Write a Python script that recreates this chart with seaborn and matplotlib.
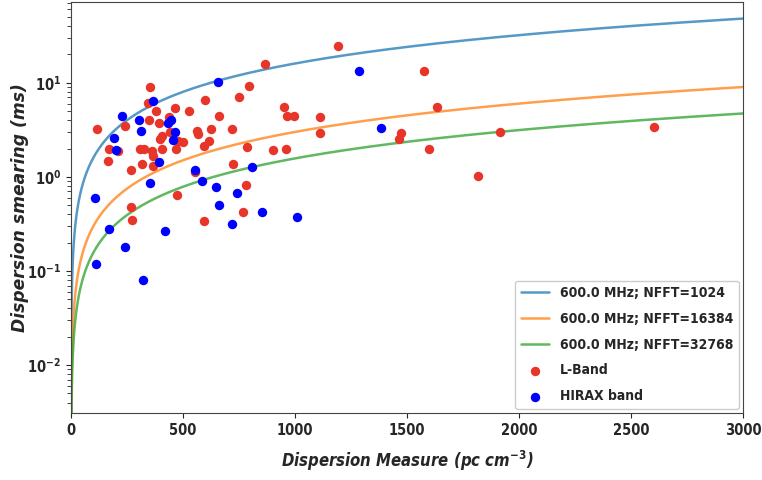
import numpy as np
import pandas as pd
import matplotlib
matplotlib.use("Agg")
import matplotlib.pyplot as plt
import seaborn as sns

# ---- data ----
curve_labels = ["600.0 MHz; NFFT=1024", "600.0 MHz; NFFT=16384", "600.0 MHz; NFFT=32768"]
curve_colors = ["#1f77b4", "#ff7f0e", "#2ca02c"]
# smearing (ms) per unit DM (value at DM=3000 / 3000)
curve_slopes = [0.0160, 0.00300, 0.00157]

lband_dm = [117, 354, 342, 379, 347, 392, 438, 241, 170, 164, 209, 308, 326, 360,
            367, 405, 397, 405, 318, 365, 268, 442, 469, 479, 501, 466, 528, 597,
            662, 561, 566, 625, 617, 594, 720, 749, 795, 786, 867, 951, 963, 996,
            903, 958, 725, 555, 780, 473, 268, 272, 766, 592, 1193, 1576, 1110,
            1110, 1635, 1472, 1463, 1915, 1600, 1818, 2603]
lband_smear = [3.23, 9.07, 6.03, 5.05, 4.05, 3.77, 4.36, 3.50, 1.96, 1.49, 1.90, 1.98,
               1.96, 1.90, 1.68, 1.98, 2.53, 2.74, 1.37, 1.30, 1.19, 2.97, 1.98, 2.43,
               2.33, 5.39, 5.05, 6.56, 4.47, 3.10, 2.86, 3.23, 2.43, 2.13, 3.23, 6.98,
               9.30, 2.06, 15.8, 5.57, 4.47, 4.47, 1.93, 1.98, 1.37, 1.12, 0.81, 0.644,
               0.476, 0.344, 0.42, 0.336, 24.7, 13.4, 4.29, 2.93, 5.47, 2.93, 2.53,
               3.02, 1.98, 1.03, 3.41]

hirax_dm = [226, 305, 367, 312, 193, 201, 446, 434, 463, 457, 658, 394, 353, 555, 583,
            646, 742, 807, 107, 171, 241, 112, 323, 418, 661, 720, 853, 1009, 1287, 1384]
hirax_smear = [4.47, 4.02, 6.34, 3.05, 2.57, 1.93, 4.02, 3.70, 2.97, 2.47, 10.07, 1.43,
               0.855, 1.19, 0.914, 0.776, 0.676, 1.26, 0.598, 0.276, 0.179, 0.118,
               0.081, 0.267, 0.508, 0.312, 0.42, 0.37, 13.4, 3.31]

x_ticks = [0, 500, 1000, 1500, 2000, 2500, 3000]

# ---- figure ----
sns.set_style("ticks")
plt.rcParams["font.family"] = ["DejaVu Sans"]
plt.rcParams["font.stretch"] = "condensed"
plt.rcParams["font.weight"] = "bold"
plt.rcParams["mathtext.fontset"] = "dejavusans"

fig = plt.figure(figsize=(7.62, 4.8), dpi=100)
ax = fig.add_axes([71 / 762, 1 - 413 / 480, (743 - 71) / 762, (413 - 2) / 480])

dm_grid = np.arange(0, 3001, 1.0)
for lab, col, k in zip(curve_labels, curve_colors, curve_slopes):
    df = pd.DataFrame({"DM": dm_grid, "t": k * dm_grid})
    sns.lineplot(data=df, x="DM", y="t", color=col, alpha=0.75, linewidth=1.8,
                 label=lab, ax=ax)

sns.scatterplot(x=lband_dm, y=lband_smear, color="#e8352a", s=46, linewidth=0,
                label="L-Band", ax=ax, zorder=3)
sns.scatterplot(x=hirax_dm, y=hirax_smear, color="#0000ff", s=46, linewidth=0,
                label="HIRAX band", ax=ax, zorder=3)

ax.set_yscale("log")
ax.set_xlim(0, 3000)
ax.set_ylim(0.0031, 72)
ax.set_xticks(x_ticks)
ax.set_xticklabels([str(v) for v in x_ticks], fontweight="bold", fontsize=10.5)
for t in ax.get_yticklabels():
    t.set_fontweight("bold")
ax.tick_params(axis="both", labelsize=10.5)
ax.tick_params(axis="y", which="minor", length=3)

for s in ax.spines.values():
    s.set_color("#444444")
    s.set_visible(True)

ax.set_xlabel(r"Dispersion Measure (pc cm$^{\mathbf{-3}}$)", fontsize=12,
              fontweight="bold", fontstyle="italic", labelpad=8)
ax.set_ylabel("Dispersion smearing (ms)", fontsize=12.3, fontweight="bold",
              fontstyle="italic", fontstretch="normal")
ax.yaxis.set_label_coords(-0.062, 0.5)

leg = ax.legend(loc="lower right", borderaxespad=0.3, labelspacing=0.85,
                prop={"weight": "bold", "size": 10}, framealpha=1)

fig.savefig("out.png", dpi=100)
